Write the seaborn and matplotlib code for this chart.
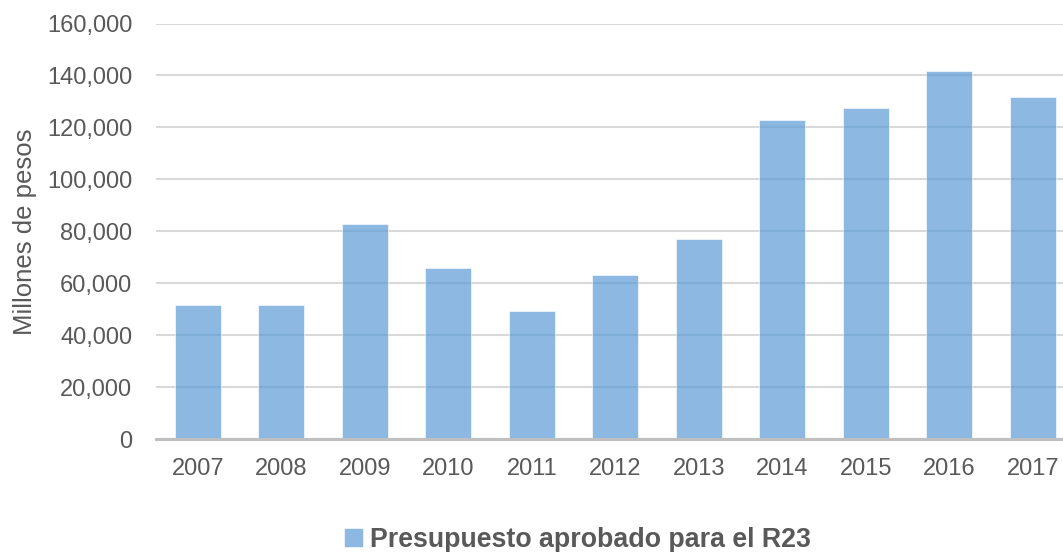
import pandas as pd
import matplotlib
matplotlib.use("Agg")
import matplotlib.pyplot as plt
import matplotlib.ticker as mticker
import seaborn as sns

# ─── Data ────────────────────────────────────────────────────────────────────
years  = ["2007", "2008", "2009", "2010", "2011", "2012",
          "2013", "2014", "2015", "2016", "2017"]
budget = [51600, 51700, 82800, 65800, 49200, 63100,
          77000, 122800, 127300, 141600, 131800]
series_label = "Presupuesto aprobado para el R23"
yticks = [0, 20000, 40000, 60000, 80000, 100000, 120000, 140000, 160000]

df = pd.DataFrame({"year": years, "budget": budget})

# ─── Style ───────────────────────────────────────────────────────────────────
BAR   = "#5B9BD5"
TEXT  = "#595959"
GRID  = "#D9D9D9"
AXIS  = "#BFBFBF"

sns.set_style("white")
plt.rcParams["font.family"] = ["Liberation Sans", "DejaVu Sans"]

fig = plt.figure(figsize=(10.63, 5.52), dpi=100, facecolor="white")
ax = fig.add_axes([0.1468, 0.2047, 0.8532, 0.7527])

sns.barplot(data=df, x="year", y="budget", color=BAR, alpha=0.7,
            width=0.55, saturation=1, edgecolor="white", linewidth=0.6,
            label=series_label, ax=ax, zorder=3)

ax.set_ylim(0, 160000)
ax.set_yticks(yticks)
ax.yaxis.set_major_formatter(mticker.FuncFormatter(lambda v, p: f"{int(v):,}"))
ax.set_xlim(-0.5, 10.36)

ax.grid(axis="y", color=GRID, linewidth=1.5, zorder=4)
ax.set_axisbelow(False)
for s in ["top", "right", "left"]:
    ax.spines[s].set_visible(False)
ax.spines["bottom"].set_color(AXIS)
ax.spines["bottom"].set_linewidth(2.2)
ax.spines["bottom"].set_zorder(5)

ax.tick_params(axis="both", length=0, labelsize=17, colors=TEXT)
ax.tick_params(axis="y", pad=17)
ax.tick_params(axis="x", pad=13.5)

ax.set_xlabel("")
ax.set_ylabel("Millones de pesos", fontsize=18.5, color=TEXT)
ax.yaxis.set_label_coords(-0.131, 0.5)

if ax.legend_:
    ax.legend_.remove()
handles, labels = ax.get_legend_handles_labels()
leg = fig.legend(handles[:1], labels[:1], loc="center",
                 bbox_to_anchor=(577 / 1063, 1 - 540 / 552), frameon=False,
                 handlelength=0.72, handleheight=0.72, handletextpad=0.25,
                 prop={"size": 19.3, "weight": "bold"})
for t in leg.get_texts():
    t.set_color(TEXT)

plt.savefig("out.png", dpi=100, facecolor="white")
plt.close()
